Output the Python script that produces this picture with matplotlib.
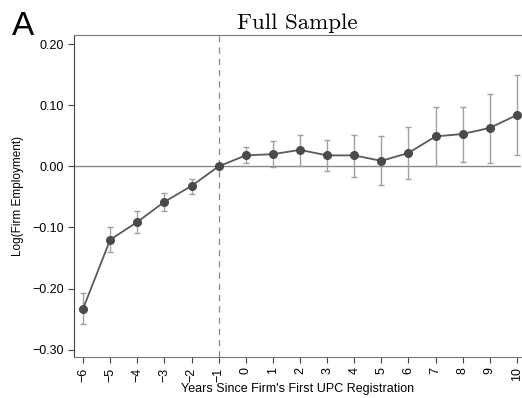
import matplotlib.pyplot as plt
import numpy as np

# Event-study coefficients
years = [-6, -5, -4, -3, -2, -1, 0, 1, 2, 3, 4, 5, 6, 7, 8, 9, 10]
coef = [-0.233, -0.120, -0.091, -0.058, -0.032, 0.000, 0.018, 0.020, 0.027,
        0.018, 0.018, 0.009, 0.022, 0.049, 0.053, 0.063, 0.084]
ci_low = [-0.258, -0.140, -0.109, -0.073, -0.045, 0.000, 0.005, -0.001, 0.001,
          -0.008, -0.017, -0.031, -0.021, 0.001, 0.007, 0.006, 0.018]
ci_high = [-0.208, -0.100, -0.073, -0.043, -0.020, 0.000, 0.031, 0.041, 0.052,
           0.044, 0.052, 0.049, 0.065, 0.097, 0.098, 0.119, 0.150]
yticks = [-0.30, -0.20, -0.10, 0.00, 0.10, 0.20]

coef = np.array(coef)
yerr = [coef - np.array(ci_low), np.array(ci_high) - coef]

plt.rcParams['font.family'] = ['Liberation Sans', 'DejaVu Sans']

fig = plt.figure(figsize=(5.22, 3.98), dpi=100)
ax = fig.add_axes([0.142, 0.103, 0.856, 0.809])

ax.axhline(0, color='#888888', lw=1.0, zorder=1)
ax.axvline(-1, color='#888888', lw=0.9, ls=(0, (5, 4)), zorder=1)

ax.errorbar(years, coef, yerr=yerr, fmt='none', ecolor='#a0a0a0', elinewidth=1.0,
            capsize=2.5, capthick=1.0, zorder=2)
ax.plot(years, coef, color='#5a5a5a', lw=1.3, marker='o', ms=5.5,
        mfc='#4a4a4a', mec='#4a4a4a', zorder=3)

ax.set_xlim(-6.33, 10.15)
ax.set_ylim(-0.312, 0.215)
ax.set_xticks(years)
ax.set_xticklabels([str(y).replace('-', '\u2212') for y in years], rotation=90, fontsize=9)
ax.set_yticks(yticks)
ax.set_yticklabels([f'{v:.2f}'.replace('-', '\u2212') for v in yticks], fontsize=9)
ax.tick_params(direction='out', length=4, width=0.8, colors='#444444', labelcolor='black')

ax.spines['right'].set_visible(False)
ax.spines['top'].set_color('#777777')
ax.spines['left'].set_color('#444444')
ax.spines['bottom'].set_color('#777777')

ax.set_ylabel('Log(Firm Employment)', fontsize=8.5, labelpad=6)
ax.set_xlabel("Years Since Firm's First UPC Registration", fontsize=9, labelpad=1)
ax.set_title('Full Sample', fontsize=16.5, family=['cmr10', 'DejaVu Serif'], pad=4)

fig.text(0.022, 0.972, 'A', fontsize=24, va='top', ha='left')

fig.savefig('out.png')
